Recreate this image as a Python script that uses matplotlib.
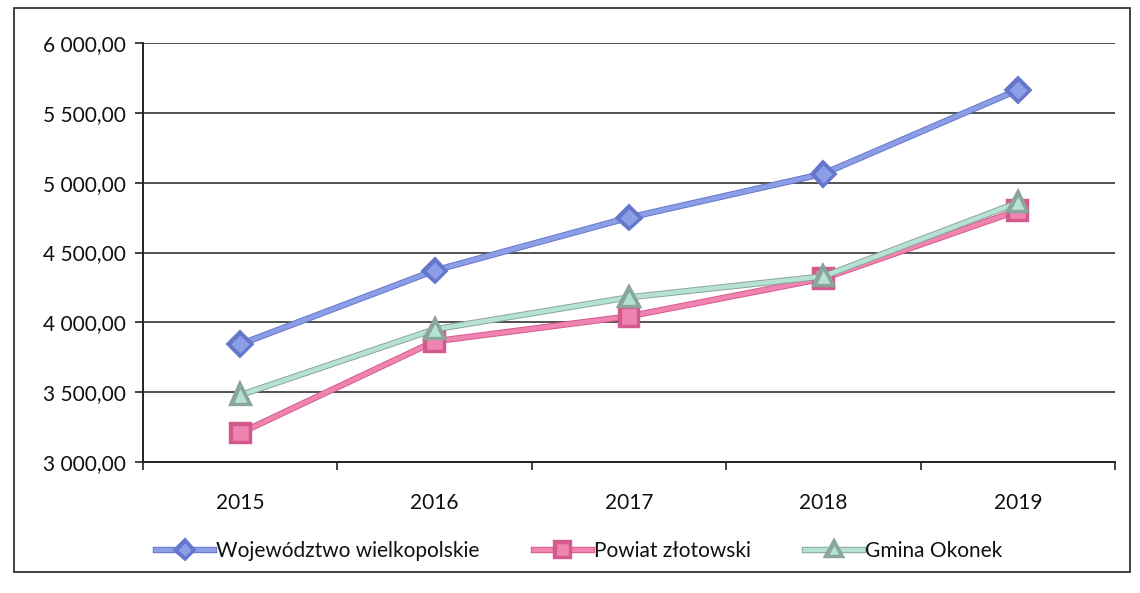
import numpy as np
import matplotlib.pyplot as plt
import matplotlib.patheffects as pe
from matplotlib.patches import Rectangle
from matplotlib.ticker import FuncFormatter, FixedLocator

plt.rcParams["font.family"] = ["Lato", "DejaVu Sans"]
plt.rcParams["text.color"] = "#111111"
plt.rcParams["xtick.labelcolor"] = "#111111"
plt.rcParams["ytick.labelcolor"] = "#111111"

years = ["2015", "2016", "2017", "2018", "2019"]
wojewodztwo = [3843, 4371, 4750, 5064, 5664]
powiat = [3207, 3864, 4043, 4314, 4800]
gmina = [3479, 3950, 4179, 4329, 4857]

series = [
    ("Województwo wielkopolskie", wojewodztwo, "#8c9ee6", "#6577cc", "D", 10),
    ("Powiat złotowski", powiat, "#ef84b0", "#d45a8e", "s", 12),
    ("Gmina Okonek", gmina, "#b6e2d3", "#8aa59b", "^", 11),
]

fig = plt.figure(figsize=(11.4, 5.93), dpi=100)
fig.patches.append(Rectangle((14 / 1140, 1 - 572 / 593), (1130 - 14) / 1140, (572 - 8) / 593,
                             transform=fig.transFigure, fill=False, edgecolor="#222222", lw=1.2))
ax = fig.add_axes([143 / 1140, 1 - 462 / 593, 972 / 1140, 419 / 593])

x = np.arange(len(years))
for label, vals, col, edge, mk, ms in series:
    ax.plot(x, vals, color=col, lw=3.2, marker=mk, ms=ms, mfc=col, mec=edge, mew=1.0,
            label=label, zorder=3,
            path_effects=[pe.Stroke(linewidth=4.6, foreground=edge), pe.Normal()])

ax.set_xlim(-0.5, len(years) - 0.5)
ax.set_ylim(3000, 6000)
ax.set_yticks(np.arange(3000, 6001, 500))
ax.yaxis.set_major_formatter(FuncFormatter(lambda v, p: f"{int(v):,}".replace(",", " ") + ",00"))
ax.set_xticks(x)
ax.set_xticklabels(years)
ax.xaxis.set_minor_locator(FixedLocator(np.arange(-0.5, len(years), 1.0)))
ax.tick_params(axis="x", which="major", length=0, pad=22, labelsize=15)
ax.tick_params(axis="x", which="minor", length=6, width=1.2, color="#222222")
ax.tick_params(axis="y", length=6, width=1.2, color="#222222", labelsize=15, pad=6)
ax.grid(axis="y", color="#222222", lw=1.1)
for s in ["top", "right"]:
    ax.spines[s].set_visible(False)
for s in ["left", "bottom"]:
    ax.spines[s].set_color("#222222")
    ax.spines[s].set_linewidth(1.4)

fig.legend(loc="center", bbox_to_anchor=(0.508, 1 - 551 / 593), ncol=3, frameon=False,
           fontsize=15, handlelength=2.8, handletextpad=0.1, columnspacing=2.6,
           markerscale=0.75)

fig.savefig("out.png", dpi=100)
